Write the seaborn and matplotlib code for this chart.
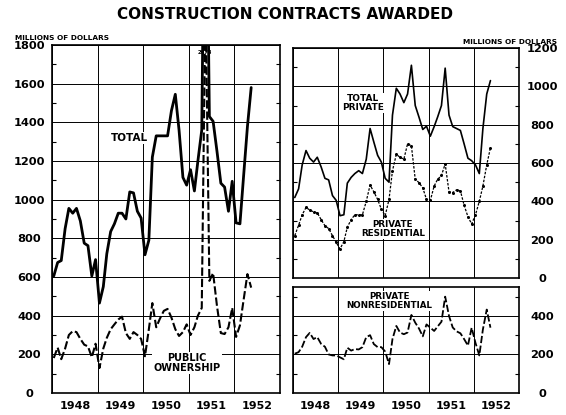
import matplotlib
matplotlib.use("Agg")
import matplotlib.pyplot as plt
import matplotlib.dates as mdates
from matplotlib.ticker import MultipleLocator, FixedLocator, FixedFormatter, NullFormatter
import pandas as pd
import seaborn as sns

# monthly values, Jan 1948 - May 1952, plotted at mid-month (millions of dollars)
MONTHS = pd.date_range("1948-01-01", periods=53, freq="MS") + pd.Timedelta(days=14)

TOTAL = [605, 675, 685, 850, 955, 930, 955, 890, 775, 762,
         605, 690, 465, 550, 720, 835, 875, 930, 930, 900,
         1040, 1035, 940, 905, 715, 790, 1220, 1330, 1330, 1330,
         1330, 1460, 1545, 1360, 1115, 1075, 1155, 1045, 1200, 1360,
         3170, 1430, 1405, 1250, 1085, 1065, 940, 1095, 880, 875,
         1120, 1378, 1580]
PUBLIC = [181, 235, 175, 230, 300, 320, 315, 280, 250, 241,
          185, 255, 129, 230, 285, 330, 355, 380, 395, 310,
          280, 315, 300, 280, 190, 330, 465, 340, 385, 425,
          435, 390, 330, 295, 315, 355, 300, 340, 400, 440,
          2073, 580, 620, 450, 310, 305, 340, 440, 290, 350,
          480, 615, 545]
TOTAL_PRIVATE = [420, 465, 590, 665, 625, 605, 630, 580, 520, 512,
                 430, 405, 325, 330, 495, 525, 545, 560, 545, 620,
                 780, 710, 640, 605, 520, 500, 850, 990, 960, 915,
                 960, 1110, 900, 840, 775, 792, 740, 790, 840, 900,
                 1095, 850, 790, 780, 770, 700, 625, 612, 590, 545,
                 780, 960, 1030]
PRIVATE_RESIDENTIAL = [221, 275, 330, 368, 355, 345, 340, 305, 273, 258,
                       221, 186, 152, 190, 265, 305, 330, 330, 330, 400,
                       485, 450, 410, 359, 325, 410, 560, 645, 630, 620,
                       700, 690, 515, 498, 470, 410, 405, 480, 515, 535,
                       595, 450, 446, 460, 455, 380, 320, 282, 330, 400,
                       480, 590, 680]
PRIVATE_NONRESIDENTIAL = [204, 212, 240, 290, 312, 280, 290, 255, 240, 200,
                          195, 195, 185, 175, 235, 220, 228, 226, 238, 290,
                          300, 254, 238, 238, 215, 150, 280, 348, 314, 305,
                          314, 405, 365, 335, 294, 356, 339, 322, 345, 370,
                          500, 400, 340, 320, 310, 280, 246, 339, 260, 195,
                          330, 433, 339]
YEARS = [1948, 1949, 1950, 1951, 1952]

DASH = (0, (4, 1.4))


def style_axis(ax, ymax, right=False):
    ax.set_xlim(pd.Timestamp("1948-01-01"), pd.Timestamp("1953-01-01"))
    ax.set_ylim(0, ymax)
    ax.set_xlabel("")
    ax.set_ylabel("")

    ax.xaxis.set_major_locator(mdates.YearLocator())
    ax.xaxis.set_major_formatter(NullFormatter())
    ax.xaxis.set_minor_locator(FixedLocator(
        [mdates.date2num(pd.Timestamp(f"{y}-07-02")) for y in YEARS]))
    ax.xaxis.set_minor_formatter(FixedFormatter([str(y) for y in YEARS]))
    ax.tick_params(axis="x", which="major", length=0)
    ax.tick_params(axis="x", which="minor", length=0, pad=6, labelsize=8,
                   labelcolor="black")

    ax.yaxis.set_major_locator(MultipleLocator(200))
    ax.yaxis.set_minor_locator(MultipleLocator(100))
    ax.tick_params(axis="y", which="major", length=0, pad=16.5, labelsize=8.2,
                   labelcolor="black",
                   left=not right, right=right, labelleft=not right, labelright=right)
    ax.tick_params(axis="y", which="minor", direction="in", length=3, width=0.8,
                   color="black", left=True, right=True)

    ax.grid(True, which="major", color="black", linewidth=0.7)
    for s in ax.spines.values():
        s.set_visible(True)
        s.set_color("black")
        s.set_linewidth(1.2)
    for lbl in ax.get_xticklabels(minor=True) + ax.get_yticklabels():
        lbl.set_fontweight("bold")
    for lbl in ax.get_yticklabels():
        lbl.set_horizontalalignment("center")


def label(ax, x, y, txt, size):
    ax.text(x, y, txt, transform=ax.transAxes, ha="center", va="center",
            fontsize=size, fontweight="bold", linespacing=0.95, zorder=5,
            color="black", bbox=dict(facecolor="white", edgecolor="none", pad=1.0))


def main():
    sns.set_theme(style="white")
    plt.rcParams["font.family"] = ["DejaVu Sans"]
    plt.rcParams["text.color"] = "black"

    df = pd.DataFrame({
        "month": MONTHS,
        "total": TOTAL,
        "public": PUBLIC,
        "private": TOTAL_PRIVATE,
        "residential": PRIVATE_RESIDENTIAL,
        "nonresidential": PRIVATE_NONRESIDENTIAL,
    })

    fig = plt.figure(figsize=(5.66, 4.15), dpi=100)
    ax_left = fig.add_axes([0.0919, 0.0530, 0.4028, 0.8386])
    ax_top = fig.add_axes([0.5177, 0.3301, 0.3993, 0.5542])
    ax_bot = fig.add_axes([0.5177, 0.0530, 0.3993, 0.2554])

    # left panel: total and public ownership
    sns.lineplot(data=df, x="month", y="total", ax=ax_left, color="black",
                 linewidth=2.0, zorder=3)
    sns.lineplot(data=df, x="month", y="public", ax=ax_left, color="black",
                 linewidth=1.5, linestyle=DASH, zorder=3)
    style_axis(ax_left, 1800)
    label(ax_left, 0.338, 0.733, "TOTAL", 7.5)
    label(ax_left, 0.592, 0.086, "PUBLIC\nOWNERSHIP", 7)
    ax_left.text(0.671, 0.977, "2073", transform=ax_left.transAxes, ha="center",
                 va="center", fontsize=3.8, fontweight="bold", zorder=5)

    # upper right: total private and private residential
    sns.lineplot(data=df, x="month", y="private", ax=ax_top, color="black",
                 linewidth=1.2, zorder=3)
    sns.lineplot(data=df, x="month", y="residential", ax=ax_top, color="black",
                 linewidth=0.9, linestyle=(0, (2, 1.2)), marker="o", markersize=2.2,
                 markeredgewidth=0, zorder=3)
    style_axis(ax_top, 1200, right=True)
    ax_top.tick_params(axis="x", which="minor", labelbottom=False)
    label(ax_top, 0.310, 0.761, "TOTAL\nPRIVATE", 6.5)
    label(ax_top, 0.442, 0.213, "PRIVATE\nRESIDENTIAL", 6.3)

    # lower right: private nonresidential
    sns.lineplot(data=df, x="month", y="nonresidential", ax=ax_bot, color="black",
                 linewidth=1.3, linestyle=DASH, zorder=3)
    style_axis(ax_bot, 550, right=True)
    label(ax_bot, 0.425, 0.868, "PRIVATE\nNONRESIDENTIAL", 6.3)

    fig.text(0.503, 0.964, "CONSTRUCTION CONTRACTS AWARDED", ha="center", va="center",
             fontsize=11, fontweight="bold")
    fig.text(15 / 566, 1 - 38 / 415, "MILLIONS OF DOLLARS", ha="left", va="center",
             fontsize=5.3, fontweight="bold")
    fig.text(557 / 566, 1 - 42 / 415, "MILLIONS OF DOLLARS", ha="right", va="center",
             fontsize=5.3, fontweight="bold")

    fig.savefig("out.png", dpi=100)
    plt.close(fig)


if __name__ == "__main__":
    main()
